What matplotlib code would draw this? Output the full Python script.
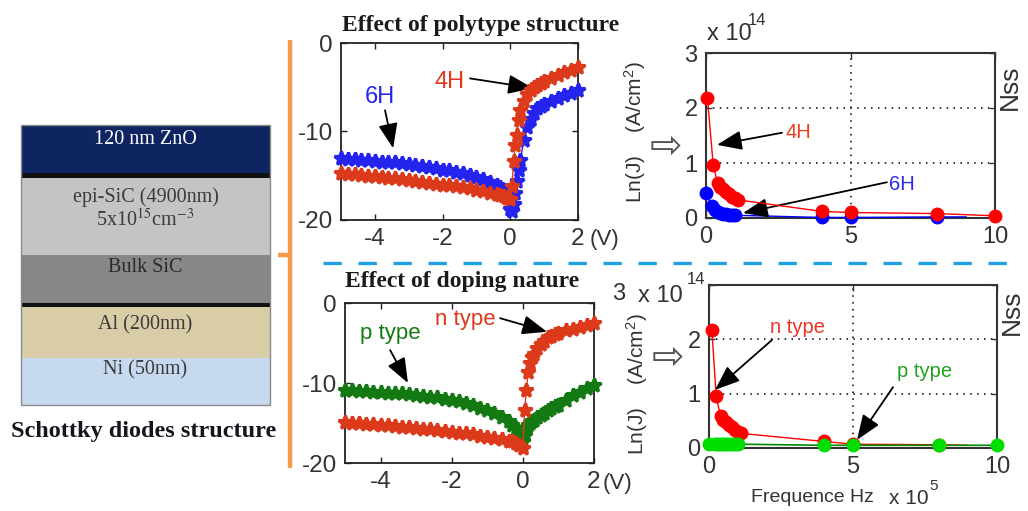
import matplotlib
matplotlib.use("Agg")
import matplotlib.pyplot as plt
from matplotlib.patches import Rectangle

W, H = 1028, 511
plt.rcParams['axes.unicode_minus'] = False
plt.rcParams['font.family'] = ['Liberation Sans', 'DejaVu Sans']
plt.rcParams['mathtext.fontset'] = 'custom'
plt.rcParams['mathtext.rm'] = 'Liberation Sans'
plt.rcParams['mathtext.it'] = 'Liberation Sans:italic'

# ---------------- data ----------------
volts = [-5.0, -4.8, -4.6, -4.4, -4.2, -4.0, -3.8, -3.6, -3.4, -3.2, -3.0, -2.8, -2.6, -2.4,
         -2.2, -2.0, -1.8, -1.6, -1.4, -1.2, -1.0, -0.8, -0.6, -0.4, -0.3, -0.2, -0.1, 0.0,
         0.05, 0.1, 0.15, 0.2, 0.25, 0.3, 0.4, 0.5, 0.6, 0.7, 0.8, 0.9, 1.0,
         1.2, 1.4, 1.6, 1.8, 2.0]
lnj_6H = [-13.0, -13.1, -13.1, -13.2, -13.2, -13.3, -13.4, -13.4, -13.5, -13.6, -13.7, -13.8, -13.9, -14.0,
          -14.1, -14.3, -14.4, -14.6, -14.7, -14.9, -15.1, -15.4, -15.7, -16.0, -16.3, -16.6, -17.2, -18.8,
          -19.0, -18.2, -17.0, -15.6, -14.3, -13.2, -11.0, -9.5, -8.6, -7.9, -7.4, -7.1, -6.9,
          -6.5, -6.2, -5.9, -5.6, -5.3]
lnj_4H = [-14.7, -14.8, -14.8, -14.9, -15.0, -15.0, -15.1, -15.2, -15.3, -15.4, -15.5, -15.6, -15.7, -15.8,
          -15.9, -16.0, -16.1, -16.2, -16.3, -16.4, -16.6, -16.7, -16.9, -17.1, -17.2, -17.3, -17.5, -17.6,
          -16.2, -13.3, -11.5, -10.4, -8.7, -7.6, -6.5, -5.8, -5.3, -5.0, -4.7, -4.5, -4.3,
          -3.9, -3.6, -3.3, -3.0, -2.7]
lnj_ptype = [-10.9, -10.9, -11.0, -11.0, -11.1, -11.1, -11.2, -11.2, -11.3, -11.4, -11.5, -11.6, -11.7, -11.8,
             -12.0, -12.1, -12.3, -12.5, -12.8, -13.1, -13.4, -13.8, -14.2, -14.8, -15.2, -15.6, -16.3, -17.2,
             -16.5, -15.8, -15.3, -15.0, -14.8, -14.6, -14.3, -14.0, -13.7, -13.4, -13.1, -12.9, -12.7,
             -12.1, -11.5, -11.1, -10.6, -10.2]
lnj_ntype = [-14.9, -15.0, -15.0, -15.1, -15.1, -15.2, -15.3, -15.4, -15.5, -15.5, -15.6, -15.7, -15.8, -15.9,
             -16.0, -16.1, -16.2, -16.3, -16.4, -16.6, -16.7, -16.9, -17.0, -17.2, -17.3, -17.5, -17.7, -18.1,
             -13.4, -10.9, -8.6, -7.5, -6.8, -6.4, -5.6, -5.1, -4.7, -4.3, -4.1, -3.9, -3.7,
             -3.4, -3.2, -3.0, -2.7, -2.5]

# frequency (x 1e5 Hz) and Nss (x 1e14)
freq_4H = [0.05, 0.25, 0.4, 0.5, 0.6, 0.7, 0.8, 0.9, 1.0, 1.1, 4.0, 5.0, 8.0, 10.0]
nss_4H = [2.18, 0.96, 0.63, 0.57, 0.52, 0.47, 0.43, 0.39, 0.36, 0.33, 0.12, 0.10, 0.08, 0.04]
freq_6H = [0.0, 0.2, 0.3, 0.4, 0.5, 0.6, 0.7, 0.8, 0.9, 1.0, 4.0, 5.0, 8.0, 9.0]
nss_6H = [0.45, 0.22, 0.14, 0.11, 0.09, 0.08, 0.07, 0.06, 0.06, 0.05, 0.01, 0.01, 0.02, 0.02]
freq_n = [0.1, 0.25, 0.4, 0.5, 0.6, 0.7, 0.8, 0.9, 1.0, 1.1, 4.0, 5.0, 8.0, 9.0]
nss_n = [2.17, 0.95, 0.58, 0.52, 0.47, 0.42, 0.38, 0.34, 0.30, 0.27, 0.12, 0.07, 0.06, 0.05]
freq_p = [0.0, 0.2, 0.3, 0.4, 0.5, 0.6, 0.7, 0.8, 0.9, 1.0, 4.0, 5.0, 8.0, 10.0]
nss_p = [0.08, 0.07, 0.07, 0.07, 0.07, 0.07, 0.07, 0.07, 0.07, 0.07, 0.05, 0.05, 0.05, 0.05]

iv_xticks = [-4, -2, 0, 2]
iv_yticks = [0, -10, -20]
nss_xticks = [0, 5, 10]
nss_yticks = [0, 1, 2, 3]

layer_names = ["120 nm ZnO", "epi-SiC (4900nm)", "Bulk SiC", "Al (200nm)", "Ni (50nm)"]
layer_colors = ["#0e2562", "#c4c4c4", "#878787", "#d8cda6", "#c7d9ef"]
layer_text_colors = ["white", "#3a3a3a", "#2a2a2a", "#3a3a3a", "#3a3a3a"]

# colours
C_RED_IV = "#dd3a1c"
C_BLUE_IV = "#2424ee"
C_GREEN_IV = "#137a13"
C_RED = "#ff0000"
C_BLUE = "#0000ff"
C_GREEN_M = "#00dd00"
C_GREEN_L = "#008a00"

# ---------------- figure ----------------
fig = plt.figure(figsize=(W / 100, H / 100), dpi=100)


def rect(x0, y0, x1, y1):
    return [x0 / W, 1 - y1 / H, (x1 - x0) / W, (y1 - y0) / H]


canvas = fig.add_axes([0, 0, 1, 1], zorder=0)
canvas.set_xlim(0, W)
canvas.set_ylim(H, 0)
canvas.axis('off')

SERIF = ['Liberation Serif', 'DejaVu Serif']

# --- device structure ---
layer_bounds = [(125, 173), (178, 255), (255, 303), (307, 358), (358, 405)]
text_y = [140, 197, 268, 325, 370]
sx0, sx1 = 21, 270
for (t, b), col in zip(layer_bounds, layer_colors):
    canvas.add_patch(Rectangle((sx0, t), sx1 - sx0, b - t, facecolor=col, edgecolor='none'))
for (t, b) in [(173, 178), (303, 307)]:
    canvas.add_patch(Rectangle((sx0, t), sx1 - sx0, b - t, facecolor='#111111', edgecolor='none'))
canvas.add_patch(Rectangle((sx0, 125), sx1 - sx0, 405 - 125, facecolor='none', edgecolor='#8a8a8a', lw=1))
for name, ty, tc in zip(layer_names, text_y, layer_text_colors):
    canvas.text((sx0 + sx1) / 2, ty, name, ha='center', va='center', fontsize=14.5,
                family=SERIF, color=tc)
canvas.text((sx0 + sx1) / 2, 220, r"5x10$^{15}$cm$^{-3}$", ha='center', va='center',
            fontsize=14.5, family=SERIF, color="#3a3a3a", math_fontfamily='stix')
canvas.text(144, 431, "Schottky diodes structure", ha='center', va='center', fontsize=17.5,
            family=SERIF, weight='bold', color='#151520')

# --- orange bracket ---
ORANGE = "#f59a4a"
canvas.plot([290, 290], [40, 468], color=ORANGE, lw=3.2, solid_capstyle='butt')
canvas.plot([278, 290], [255, 255], color=ORANGE, lw=3.2, solid_capstyle='butt')

# --- blue dashed separator ---
canvas.plot([323, 1022], [263, 263], color="#1ea2e2", lw=2.4, linestyle=(0, (5.5, 5)))

# --- titles ---
canvas.text(342, 25, "Effect of polytype structure", ha='left', va='center', fontsize=17,
            family=SERIF, weight='bold', color='#1a1a1a')
canvas.text(345, 282, "Effect of doping nature", ha='left', va='center', fontsize=17,
            family=SERIF, weight='bold', color='#1a1a1a')


def style_axes(ax, fs, lw, spine_col):
    for s in ax.spines.values():
        s.set_linewidth(lw)
        s.set_color(spine_col)
    ax.tick_params(direction='in', top=True, right=True, length=4, width=1,
                   labelsize=fs, pad=6, colors=spine_col, labelcolor='#333333')


ARROW = dict(arrowstyle='-|>,head_length=0.9,head_width=0.35', color='black', lw=1.3,
             shrinkA=0, shrinkB=0, mutation_scale=17)
IVSTYLE = dict(marker='*', ms=10, mew=2.2, lw=1, clip_on=False)

# --- IV plot (top) ---
ax1 = fig.add_axes(rect(341, 43, 578, 220))
ax1.plot(volts, lnj_6H, color=C_BLUE_IV, zorder=3, **IVSTYLE)
ax1.plot(volts, lnj_4H, color=C_RED_IV, zorder=4, **IVSTYLE)
ax1.set_xlim(-5, 2)
ax1.set_ylim(-20, 0)
ax1.set_xticks(iv_xticks)
ax1.set_yticks(iv_yticks)
style_axes(ax1, 17.5, 1.3, '#222222')
ax1.text(-3.85, -6.1, "6H", color=C_BLUE_IV, fontsize=17, ha='center', va='center')
ax1.annotate('', xy=(-3.46, -11.9), xytext=(-3.70, -7.6), arrowprops=ARROW)
ax1.text(-1.78, -4.4, "4H", color=C_RED_IV, fontsize=17, ha='center', va='center')
ax1.annotate('', xy=(0.67, -5.1), xytext=(-1.19, -4.0), arrowprops=ARROW)
canvas.text(590, 240, "(V)", fontsize=16, ha='left', va='center', color='#333333')

# --- IV plot (bottom) ---
ax3 = fig.add_axes(rect(345, 303, 594, 463))
ax3.plot(volts, lnj_ptype, color=C_GREEN_IV, zorder=3, **IVSTYLE)
ax3.plot(volts, lnj_ntype, color=C_RED_IV, zorder=4, **IVSTYLE)
ax3.set_xlim(-5, 2)
ax3.set_ylim(-20, 0)
ax3.set_xticks(iv_xticks)
ax3.set_yticks(iv_yticks)
style_axes(ax3, 17.5, 1.3, '#222222')
ax3.text(-3.73, -3.75, "p type", color=C_GREEN_IV, fontsize=16, ha='center', va='center')
ax3.annotate('', xy=(-3.23, -10.0), xytext=(-3.73, -5.9), arrowprops=ARROW)
ax3.text(-1.63, -2.1, "n type", color=C_RED_IV, fontsize=16, ha='center', va='center')
ax3.annotate('', xy=(0.68, -3.6), xytext=(-0.64, -1.9), arrowprops=ARROW)
canvas.text(603, 483, "(V)", fontsize=16, ha='left', va='center', color='#333333')

GRID = dict(color='black', linestyle=(0, (1, 3.5)), linewidth=1.1)

# --- Nss plot (top) ---
ax2 = fig.add_axes(rect(706, 53, 995, 218))
ax2.plot(freq_6H, nss_6H, '-o', color=C_BLUE, ms=9, lw=1, clip_on=False, zorder=3,
         markevery=list(range(len(freq_6H) - 1)))
ax2.plot(freq_4H, nss_4H, '-o', color=C_RED, ms=9, lw=1, clip_on=False, zorder=4)
ax2.set_xlim(0, 10)
ax2.set_ylim(0, 3)
ax2.set_xticks(nss_xticks)
ax2.set_yticks(nss_yticks)
ax2.grid(True, **GRID)
style_axes(ax2, 17, 1.5, '#333333')
ax2.text(3.18, 1.55, "4H", color="#e8401e", fontsize=14.5, ha='center', va='center')
ax2.annotate('', xy=(0.38, 1.33), xytext=(2.63, 1.55), arrowprops=ARROW)
ax2.text(6.78, 0.6, "6H", color="#2a2aee", fontsize=14.5, ha='center', va='center')
ax2.annotate('', xy=(1.28, 0.09), xytext=(6.26, 0.65), arrowprops=ARROW)
canvas.text(707, 40, "x 10", fontsize=17, ha='left', va='baseline', color='#333333')
canvas.text(748, 25, "14", fontsize=12, ha='left', va='baseline', color='#333333')
canvas.text(635, 132, r"Ln(J)    (A/cm$^2$)", rotation=90, fontsize=15, ha='center',
            va='center', color='#333333')
canvas.text(666, 147, "\u21e8", fontsize=28, ha='center', va='center', color='#555555',
            family='DejaVu Sans')
canvas.text(1010, 87, "Nss", rotation=90, fontsize=19, ha='center', va='center', color='#333333')

# --- Nss plot (bottom) ---
ax4 = fig.add_axes(rect(709, 285, 997, 448))
ax4.plot(freq_n, nss_n, '-o', color=C_RED, ms=9, lw=1, clip_on=False, zorder=3,
         markevery=list(range(len(freq_n) - 1)))
ax4.plot(freq_p, nss_p, '-', color=C_GREEN_L, lw=1.2, clip_on=False, zorder=4)
ax4.plot(freq_p, nss_p, 'o', color=C_GREEN_M, ms=9, clip_on=False, zorder=4)
ax4.set_xlim(0, 10)
ax4.set_ylim(0, 3)
ax4.set_xticks(nss_xticks)
ax4.set_yticks(nss_yticks)
ax4.set_yticklabels(['0', '1', '2', ''])
ax4.grid(True, **GRID)
style_axes(ax4, 17, 1.5, '#333333')
ax4.text(3.06, 2.21, "n type", color="#ee3322", fontsize=14.5, ha='center', va='center')
ax4.annotate('', xy=(0.21, 1.07), xytext=(2.19, 1.99), arrowprops=ARROW)
ax4.text(7.5, 1.4, "p type", color="#22a022", fontsize=14.5, ha='center', va='center')
ax4.annotate('', xy=(5.14, 0.15), xytext=(6.39, 1.12), arrowprops=ARROW)
canvas.text(619, 294, "3", fontsize=17, ha='center', va='center', color='#333333')
canvas.text(638, 302, "x 10", fontsize=17, ha='left', va='baseline', color='#333333')
canvas.text(687, 284, "14", fontsize=12, ha='left', va='baseline', color='#333333')
canvas.text(637, 384, r"Ln(J)    (A/cm$^2$)", rotation=90, fontsize=15, ha='center',
            va='center', color='#333333')
canvas.text(668, 358, "\u21e8", fontsize=28, ha='center', va='center', color='#555555',
            family='DejaVu Sans')
canvas.text(1012, 312, "Nss", rotation=90, fontsize=19, ha='center', va='center', color='#333333')
canvas.text(812, 497, "Frequence Hz", fontsize=14, ha='center', va='center', color='#333333')
canvas.text(889, 504, "x 10", fontsize=15, ha='left', va='baseline', color='#333333')
canvas.text(929, 490, "5", fontsize=11, ha='left', va='baseline', color='#333333')

fig.savefig("out.png", dpi=100)
